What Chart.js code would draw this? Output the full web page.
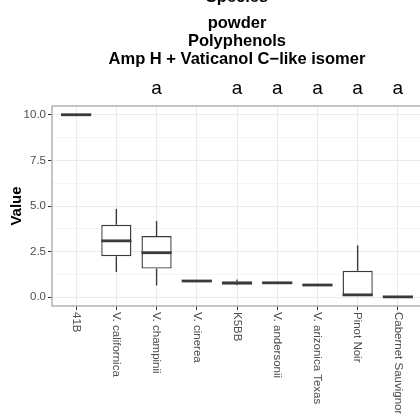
<!DOCTYPE html>
<html>
<head>
<meta charset="utf-8">
<script src="https://cdn.jsdelivr.net/npm/chart.js@4"></script>
<style>
  html, body { margin: 0; padding: 0; overflow: hidden; background: #fff; }
  #wrap { width: 420px; height: 414px; overflow: hidden; }
</style>
</head>
<body>
<div id="wrap"><canvas id="myChart" width="424" height="414"></canvas></div>
<script>
const species = ["41B", "V. californica", "V. champinii", "V. cinerea", "K5BB",
  "V. andersonii", "V. arizonica Texas", "Pinot Noir", "Cabernet Sauvignon"];
const whiskerLow = [10.0, 1.38, 0.65, 0.89, 0.66, 0.76, 0.67, 0.09, 0.02];
const q1 = [10.0, 2.25, 1.57, 0.89, 0.70, 0.76, 0.67, 0.09, 0.02];
const median = [10.0, 3.09, 2.44, 0.89, 0.78, 0.79, 0.67, 0.13, 0.02];
const q3 = [10.0, 3.97, 3.35, 0.89, 0.86, 0.81, 0.67, 1.45, 0.02];
const whiskerHigh = [10.0, 4.84, 4.18, 0.89, 0.97, 0.81, 0.67, 2.84, 0.02];
const letters = ["", "", "a", "", "a", "a", "a", "a", "a"];
const yTicks = [0, 2.5, 5, 7.5, 10];
const yMinor = [1.25, 3.75, 6.25, 8.75];
const titleLines = ["Species", "powder", "Polyphenols", "Amp H + Vaticanol C\u2212like isomer"];

const FONT = "'Liberation Sans', Arial, sans-serif";

// whiskers, medians, border and the text around the panel
const boxExtras = {
  id: "boxExtras",
  afterDatasetsDraw(chart) {
    const c = chart.ctx;
    const x = chart.scales.x, y = chart.scales.y;
    const meta = chart.getDatasetMeta(0);
    c.save();
    species.forEach((s, i) => {
      const px = x.getPixelForValue(i);
      const half = meta.data[i].width / 2;
      c.strokeStyle = "#3a3a3a";
      c.lineWidth = 1.4;
      c.beginPath();
      c.moveTo(px, y.getPixelForValue(q3[i]));
      c.lineTo(px, y.getPixelForValue(whiskerHigh[i]));
      c.moveTo(px, y.getPixelForValue(q1[i]));
      c.lineTo(px, y.getPixelForValue(whiskerLow[i]));
      c.stroke();
      c.lineWidth = 2.8;
      c.beginPath();
      c.moveTo(px - half, y.getPixelForValue(median[i]));
      c.lineTo(px + half, y.getPixelForValue(median[i]));
      c.stroke();
    });
    const a = chart.chartArea;
    c.strokeStyle = "#b3b3b3";
    c.lineWidth = 1.5;
    c.strokeRect(a.left, a.top, a.right - a.left, a.bottom - a.top);
    c.restore();
  },
  afterDraw(chart) {
    const c = chart.ctx;
    const x = chart.scales.x;
    const a = chart.chartArea;
    const cx = (a.left + a.right) / 2;
    c.save();
    c.fillStyle = "#000";
    c.textAlign = "center";
    c.textBaseline = "middle";
    c.font = "bold 16.5px " + FONT;
    const ty = [-3, 23, 41, 59];
    titleLines.forEach((t, k) => c.fillText(t, cx, ty[k]));
    c.font = "19px " + FONT;
    letters.forEach((l, i) => {
      if (l) c.fillText(l, x.getPixelForValue(i), 89);
    });
    // x labels, rotated clockwise
    c.fillStyle = "#4d4d4d";
    c.font = "11.5px " + FONT;
    c.textAlign = "left";
    species.forEach((s, i) => {
      c.save();
      c.translate(x.getPixelForValue(i), a.bottom + 6);
      c.rotate(Math.PI / 2);
      c.fillText(s, 0, 0);
      c.restore();
    });
    c.fillStyle = "#000";
    c.font = "bold 15px " + FONT;
    c.textAlign = "center";
    c.save();
    c.translate(17, (a.top + a.bottom) / 2);
    c.rotate(-Math.PI / 2);
    c.fillText("Value", 0, 0);
    c.restore();
    c.restore();
  }
};

const ctx = document.getElementById("myChart");
const myChart = new Chart(ctx, {
  type: "bar",
  data: {
    datasets: [{
      data: species.map((s, i) => ({ x: i, y: [q1[i], q3[i]] })),
      backgroundColor: "#ffffff",
      borderColor: "#3a3a3a",
      borderWidth: 1.4,
      borderSkipped: false,
      barPercentage: 0.75,
      categoryPercentage: 1.0
    }]
  },
  options: {
    responsive: false,
    animation: false,
    events: [],
    layout: { padding: { top: 106, left: 0, right: 2, bottom: 0 } },
    plugins: { legend: { display: false }, tooltip: { enabled: false }, title: { display: false } },
    scales: {
      x: {
        type: "linear",
        offset: false,
        min: -0.6,
        max: 8.6,
        afterBuildTicks: (scale) => { scale.ticks = species.map((s, i) => ({ value: i })); },
        afterFit: (scale) => { scale.height = 108; },
        ticks: { display: false },
        border: { display: false },
        grid: { offset: false, color: "#ebebeb", lineWidth: 1, tickColor: "#333333", tickLength: 4 }
      },
      y: {
        min: -0.48,
        max: 10.48,
        afterBuildTicks: (scale) => {
          scale.ticks = yTicks.concat(yMinor).sort((p, q) => p - q).map(v => ({ value: v }));
        },
        afterFit: (scale) => { scale.width = 52; },
        border: { display: false },
        ticks: {
          padding: 2,
          color: "#4d4d4d",
          font: { family: FONT, size: 11.5 },
          callback: (v) => yTicks.includes(v) ? v.toFixed(1) : ""
        },
        grid: {
          color: "#ebebeb",
          lineWidth: (c) => yTicks.includes(c.tick.value) ? 1 : 0.5,
          tickColor: (c) => yTicks.includes(c.tick.value) ? "#333333" : "rgba(0,0,0,0)",
          tickLength: 4
        }
      }
    }
  },
  plugins: [boxExtras]
});
</script>
</body>
</html>
